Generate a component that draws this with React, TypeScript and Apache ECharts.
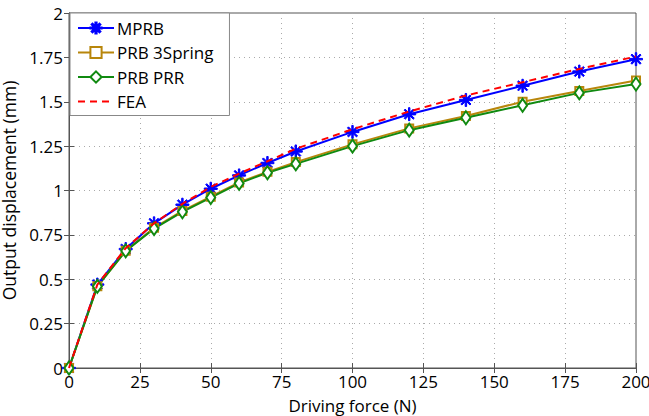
import React, { useEffect, useRef } from "react";
import * as echarts from "echarts";

const forces = [0, 10, 20, 30, 40, 50, 60, 70, 80, 100, 120, 140, 160, 180, 200];
const mprb = [0, 0.47, 0.67, 0.815, 0.92, 1.01, 1.085, 1.155, 1.22, 1.33, 1.43, 1.51, 1.59, 1.67, 1.74];
const prb3Spring = [0, 0.46, 0.66, 0.79, 0.885, 0.965, 1.045, 1.105, 1.16, 1.26, 1.35, 1.42, 1.5, 1.56, 1.62];
const prbPRR = [0, 0.46, 0.66, 0.785, 0.88, 0.96, 1.04, 1.1, 1.15, 1.25, 1.34, 1.41, 1.48, 1.55, 1.6];
const fea = [0, 0.47, 0.675, 0.815, 0.925, 1.02, 1.095, 1.165, 1.235, 1.345, 1.445, 1.535, 1.61, 1.685, 1.755];

const seriesNames = ["MPRB", "PRB 3Spring", "PRB PRR", "FEA"];
const xTicks = { min: 0, max: 200, interval: 25 };
const yTicks = { min: 0, max: 2, interval: 0.25 };

const FONT = "Open Sans";

const star =
  "path://M-1.1,-10L1.1,-10L1.1,10L-1.1,10Z M-10,-1.1L10,-1.1L10,1.1L-10,1.1Z M-7.8,-6.2L-6.2,-7.8L7.8,6.2L6.2,7.8Z M6.2,-7.8L7.8,-6.2L-6.2,7.8L-7.8,6.2Z";

export default function App() {
  const ref = useRef<HTMLDivElement>(null);
  useEffect(() => {
    const chart = echarts.init(ref.current!, null, { renderer: "svg" });
    const pair = (ys: number[]) => forces.map((f, i) => [f, ys[i]]);
    const axisCommon = {
      axisLine: { show: true, lineStyle: { color: "#555", width: 1 } },
      axisTick: { show: true, inside: true, length: 5, lineStyle: { color: "#555" } },
      splitLine: { show: false },
    };
    chart.setOption({
      animation: false,
      backgroundColor: "#fff",
      textStyle: { fontFamily: FONT },
      grid: {
        left: 69,
        right: 13,
        top: 13,
        bottom: 48,
        containLabel: false,
        outerBoundsMode: "none",
        show: true,
        borderColor: "#555",
        borderWidth: 1,
        backgroundColor: "#fff",
      },
      legend: {
        data: [
          { name: "MPRB" },
          { name: "PRB 3Spring" },
          { name: "PRB PRR" },
          { name: "FEA", itemStyle: { opacity: 0, color: "transparent", borderColor: "transparent" } },
        ],
        orient: "vertical",
        left: 70,
        top: 13,
        backgroundColor: "#fff",
        borderColor: "#888",
        borderWidth: 1,
        borderRadius: 0,
        padding: [5, 16, 4, 7],
        itemWidth: 36,
        itemHeight: 14,
        itemGap: 4.5,
        textStyle: { fontFamily: FONT, fontSize: 17, lineHeight: 20, color: "#000", padding: [0, 0, 0, -2] },
      },
      xAxis: [
        {
          type: "value",
          ...xTicks,
          name: "Driving force (N)",
          nameLocation: "middle",
          nameGap: 29,
          nameTextStyle: { fontSize: 17, color: "#000", fontFamily: FONT },
          ...axisCommon,
          axisLabel: { fontSize: 17, color: "#000", margin: 5, fontFamily: FONT },
          splitLine: { show: true, lineStyle: { type: [1, 4], color: "#aaa" } },
        },
        { type: "value", position: "top", ...xTicks, ...axisCommon, axisLabel: { show: false } },
      ],
      yAxis: [
        {
          type: "value",
          ...yTicks,
          name: "Output displacement (mm)",
          nameLocation: "middle",
          nameGap: 50,
          nameTextStyle: { fontSize: 17.5, lineHeight: 17, color: "#000", fontFamily: FONT },
          ...axisCommon,
          axisLabel: { fontSize: 17, color: "#000", margin: 6, fontFamily: FONT },
          splitLine: { show: true, lineStyle: { type: [1, 4], color: "#aaa" } },
        },
        { type: "value", position: "right", ...yTicks, ...axisCommon, axisLabel: { show: false } },
      ],
      series: [
        {
          name: "MPRB",
          type: "line",
          data: pair(mprb),
          symbol: star,
          symbolSize: 13,
          lineStyle: { color: "#0000ff", width: 2 },
          itemStyle: { color: "#0000ff", borderColor: "#0000ff", borderWidth: 1 },
        },
        {
          name: "PRB 3Spring",
          type: "line",
          data: pair(prb3Spring),
          symbol: "emptyRect",
          symbolSize: 8,
          lineStyle: { color: "#b8860b", width: 2 },
          itemStyle: { color: "#b8860b", borderColor: "#b8860b", borderWidth: 2.2 },
        },
        {
          name: "PRB PRR",
          type: "line",
          data: pair(prbPRR),
          symbol: "emptyDiamond",
          symbolSize: [9, 13],
          lineStyle: { color: "#108a10", width: 2 },
          itemStyle: { color: "#108a10", borderColor: "#108a10", borderWidth: 2.2 },
        },
        {
          name: "FEA",
          type: "line",
          data: pair(fea),
          symbol: "none",
          lineStyle: { color: "#ff0000", width: 2, type: [7, 5] },
          itemStyle: { color: "#ff0000" },
          z: 5,
        },
      ],
    });
    return () => chart.dispose();
  }, []);
  return <div ref={ref} style={{ width: 649, height: 416, position: "fixed", left: 0, top: 0 }} />;
}
